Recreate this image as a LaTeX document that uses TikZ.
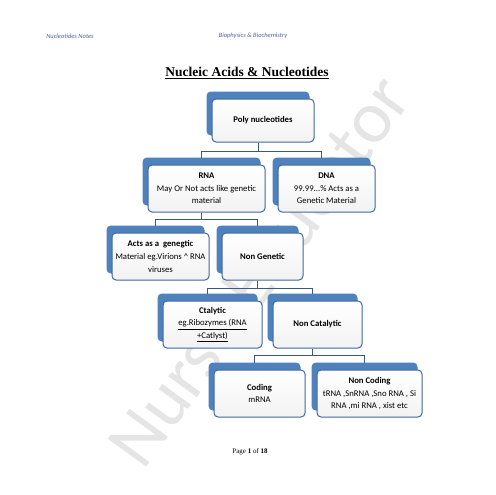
\documentclass[tikz,border=0pt]{standalone}
\usepackage{fontspec}
\setmainfont{Carlito}
\newfontfamily\timesfont{Liberation Serif}
\usetikzlibrary{positioning,shadows,calc}
\definecolor{boxblue}{RGB}{79,129,189}
\definecolor{boxline}{RGB}{62,104,158}
\definecolor{linkblue}{RGB}{58,88,128}
\definecolor{headgray}{RGB}{80,100,155}

\begin{document}
\begin{tikzpicture}[x=1pt,y=-1pt,
  card/.style={draw=boxline,line width=1pt,rounded corners=4pt,top color=white,bottom color=gray!10,
    align=center,font=\fontsize{8.7}{12.6}\selectfont,minimum height=47pt,inner sep=2pt,
    copy shadow={fill=boxblue,draw=boxblue,shadow xshift=-5pt,shadow yshift=7pt}},
  link/.style={draw=linkblue,line width=0.8pt}]

\fill[white] (0,0) rectangle (495,495);
\useasboundingbox (0,0) rectangle (495,495);

\node[rotate=54,font=\fontsize{74}{74}\selectfont,text=gray!20] (mark) at (258,270) {Nurse Educator};

\node[font=\fontsize{6.5}{7}\selectfont\itshape,text=headgray] (lefthead) at (70,36) {Nucleotides Notes};
\node[font=\fontsize{6.5}{7}\selectfont\itshape,text=headgray] (midhead) at (253,36) {Biophysics \& Biochemistry};
\node[font=\timesfont\bfseries\fontsize{13.5}{15}\selectfont] (title) at (247,73) {\underline{Nucleic Acids \& Nucleotides}};

\node[card,minimum width=102pt,minimum height=43pt] (poly) at (263,120.5) {\textbf{Poly nucleotides}};
\node[card,minimum width=117pt] (rna) at (206.5,188.5) {\textbf{RNA}\\May Or Not acts like genetic\\material};
\node[card,minimum width=97pt] (dna) at (326.5,188.5) {\textbf{DNA}\\99.99...\% Acts as a\\Genetic Material};
\node[card,minimum width=97pt] (acts) at (160.5,256.5) {\textbf{Acts as a\ \ genegtic}\\Material eg.Virions \textasciicircum{} RNA\\viruses};
\node[card,minimum width=81pt] (nongen) at (262.5,256.5) {\textbf{Non Genetic}};
\node[card,minimum width=99pt] (ctal) at (212.5,324.5) {\textbf{Ctalytic}\\\underline{eg.Ribozymes (RNA}\\\underline{+Catlyst)}};
\node[card,minimum width=89pt] (noncat) at (317.5,324.5) {\textbf{Non Catalytic}};
\node[card,minimum width=91pt] (coding) at (259.5,393.5) {\textbf{Coding}\\mRNA};
\node[card,minimum width=105pt] (noncod) at (369.5,393.5) {\textbf{Non Coding}\\tRNA ,SnRNA ,Sno RNA , Si\\RNA ,mi RNA , xist etc};

\draw[link] ([xshift=-5pt]poly.south) -- ++(0pt,-9pt) -| ([shift={(-5pt,7pt)}]rna.north);
\draw[link] ([xshift=-5pt]poly.south) -- ++(0pt,-9pt) -| ([shift={(-5pt,7pt)}]dna.north);
\draw[link] ([xshift=-5pt]rna.south) -- ++(0pt,-7pt) -| ([shift={(-5pt,7pt)}]acts.north);
\draw[link] ([xshift=-5pt]rna.south) -- ++(0pt,-7pt) -| ([shift={(-5pt,7pt)}]nongen.north);
\draw[link] ([xshift=-5pt]nongen.south) -- ++(0pt,-8pt) -| ([shift={(-5pt,7pt)}]ctal.north);
\draw[link] ([xshift=-5pt]nongen.south) -- ++(0pt,-8pt) -| ([shift={(-5pt,7pt)}]noncat.north);
\draw[link] ([xshift=-5pt]noncat.south) -- ++(0pt,-7pt) -| ([shift={(-5pt,7pt)}]coding.north);
\draw[link] ([xshift=-5pt]noncat.south) -- ++(0pt,-7pt) -| ([shift={(-5pt,7pt)}]noncod.north);

\node[font=\timesfont\fontsize{7}{8}\selectfont] (page) at (250,452) {Page \textbf{1} of \textbf{18}};

\end{tikzpicture}
\end{document}
